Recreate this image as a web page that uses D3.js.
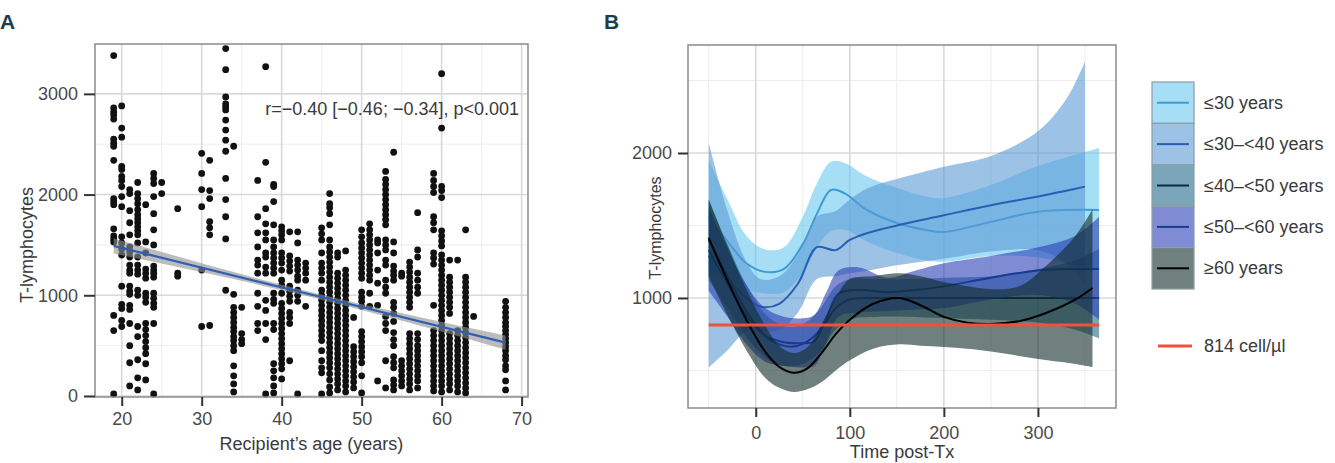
<!DOCTYPE html>
<html><head><meta charset="utf-8">
<script src="https://cdn.jsdelivr.net/npm/d3@7"></script>
<style>
body{margin:0;background:#fff;}
svg{display:block;}
text{font-family:"Liberation Sans",Arial,sans-serif;}
</style>
</head><body>
<svg id="c" width="1335" height="463"></svg>
<script>
// ---------- Panel A data ----------
const ageCols = [19,20,21,22,23,24,25,27,30,31,33,34,35,37,38,39,40,41,42,43,45,46,47,48,49,50,51,52,53,54,55,56,57,59,60,61,62,63,64,68];
const cellCols = [
 [3380,2860,2820,2790,2750,2550,2510,2480,2340,1960,1930,1900,1660,1590,1560,1530,800,650,20],
 [2880,2660,2570,2280,2250,2180,2140,2080,1980,1880,1580,1520,1460,1400,1090,910,870,750,690],
 [2050,2010,1840,1720,1600,1480,1430,1380,1300,1250,1220,1090,1040,1010,900,860,720,500,330,100],
 [2120,2010,1960,1910,1850,1800,1760,1720,1680,1640,1600,1520,1380,1300,1250,1210,1050,1000,690,590,360,180,60],
 [1900,1530,1420,1260,1220,1170,1020,980,930,720,660,600,540,480,420,320,160],
 [2210,2160,2110,1980,1810,1650,1500,1290,1250,1220,1180,1020,970,920,880,720,20],
 [2120,2010],
 [1860,1220,1190],
 [2410,2210,2050,1880,1250,690],
 [2340,2040,1960,1730,1670,1600,700],
 [3450,3240,2970,2900,2870,2840,2740,2640,2540,2430,2160,1950,1780,1560,1050],
 [2480,1010,880,830,780,730,680,640,590,550,500,450,300,200,120,40],
 [880,620,560,520],
 [2140,1780,1620,1480,1350,1300,1220,1020,890,720,650],
 [3270,2320,1860,1710,1620,1550,1420,1380,1280,1220,950,850,720,560,20],
 [2100,2080,1930,1700,1550,1480,1420,1370,1320,1270,1220,1020,960,920,720,660,320,250,180,100,30],
 [1680,1640,1600,1550,1420,1370,1320,1250,1150,1100,1020,920,870,820,770,720,670,620,570,520,470,420,370,320,270,170],
 [1630,1390,1340,1290,1240,1090,1040,990,940,830,780,720,350],
 [1630,1520,1350,1300,1250,1190,1150,1050,1000,940,20],
 [1320,1270,1220,1150,890],
 [1670,1610,1550,1420,1320,1270,1220,1150,1050,1000,950,900,850,800,750,700,650,600,550,450,350,280,230,20],
 [2010,1910,1870,1810,1700,1550,1480,1430,1380,1330,1280,1230,1180,1130,1080,1030,980,930,880,830,780,730,680,630,580,530,480,430,380,330,280,220,160,90,30],
 [1420,1380,1220,1170,1120,1070,1020,970,920,870,820,770,720,670,620,570,520,470,420,370,320,270,220,170,120,60],
 [1440,1250,1200,1150,1100,1050,1000,950,900,850,800,750,700,650,600,550,500,450,400,350,300,250,200,150,100,40],
 [780,490,440,390,340,290,240,190,140,80],
 [1650,1580,1520,1470,1420,1370,1320,1270,1220,1170,1030,980,940,890,640,590,540,490,440,390,330,200,30],
 [1710,1650,1600,1550,1500,1450,1400,1350,1300,1250,1200,1150,1020,890],
 [1550,1520,1420,1250,1120,900,150],
 [2230,2150,2100,2050,2000,1950,1900,1850,1800,1750,1700,1550,1500,1450,1350,1300,1150,1080,1020,790,720,650,350,80],
 [2420,1530,1420,1290,1240,1200,1150,930,880,820,740,630,560,500,390,330,280,160,110,60],
 [1220,1190,350,300,250,200,150,100],
 [1330,1280,1230,1180,1130,1080,1030,980,930,880,620,570,520,470,420,370,320,270,220,170,120,60],
 [1820,1450,1380,1220,1150,1080,1020,620,560,500,450,400,350,300,250,200,150,80],
 [2210,2140,2080,2020,1780,1720,1650,1420,1370,1310,900,650,600,550,500,450,400,350,300,250,200,150,100,50],
 [3200,2660,2080,2040,1970,1640,1590,1540,1490,1400,1350,1300,1250,1200,1150,1100,1050,1000,950,900,850,800,750,700,650,600,550,500,450,400,350,300,250,200,150,100,40],
 [1350,1180,1130,1080,1030,980,930,880,820,620,570,520,470,420,370,320,270,220,170,120,60],
 [1350,650,600,550,500,450,400,350,300,250,200,150,100,40],
 [1650,1180,1130,1080,1030,980,930,880,830,780,730,680,630,580,530,480,430,380,330,280,230,180,130,80,30],
 [790],
 [940,880,830,780,730,690,650,610,570,530,490,450,400,360,300,260,150,60]
];
const fitAge = [19, 43.5, 68];
const fitMean = [1490, 1010, 530];
const fitLo = [1415, 985, 460];
const fitHi = [1565, 1035, 600];
const xTicksA = [20,30,40,50,60,70];
const yTicksA = [0,1000,2000,3000];
const corrLabel = "r=\u22120.40 [\u22120.46; \u22120.34], p<0.001";

// ---------- Panel B data ----------
const groupNames = ["\u226430 years","\u226430\u2013<40 years","\u226440\u2013<50 years","\u226450\u2013<60 years","\u226560 years"];
const g1Time = [-50,-30,-10,10,30,50,65,80,95,118,150,181,200,250,300,365];
const g1Mean = [1560,1390,1240,1180,1200,1370,1580,1745,1720,1607,1517,1469,1455,1525,1595,1607];
const g1Lo   = [1170,1110,1060,1030,1040,1170,1350,1460,1470,1390,1310,1260,1250,1290,1280,1190];
const g1Hi   = [1950,1680,1430,1335,1350,1560,1790,1940,1930,1840,1760,1700,1690,1780,1910,2035];
const g2Time = [-50,-30,-10,5,25,45,65,85,100,120,150,200,250,300,330,350];
const g2Mean = [1290,1140,1000,940,960,1100,1350,1330,1400,1450,1500,1570,1640,1700,1740,1768];
const g2Lo   = [520,640,770,770,780,900,1130,1150,1170,1190,1225,1270,1320,1330,1240,1100];
const g2Hi   = [2070,1600,1250,1130,1150,1300,1560,1600,1680,1760,1820,1905,1980,2150,2370,2630];
const g3Time = [-50,-30,-10,10,25,40,55,70,85,100,130,160,200,250,300,340,365];
const g3Mean = [1400,1150,910,740,680,665,700,790,930,990,1000,1000,1000,1000,1000,1000,1000];
const g3Lo   = [1120,930,730,590,540,530,560,640,780,850,870,870,860,850,830,780,720];
const g3Hi   = [1680,1370,1090,890,820,800,840,940,1080,1130,1130,1130,1140,1150,1200,1260,1340];
const g4Time = [-50,-30,-10,10,30,50,62,75,88,110,140,170,200,250,300,340,365];
const g4Mean = [1330,1100,880,740,695,688,700,860,1030,1055,1040,1055,1080,1140,1190,1200,1200];
const g4Lo   = [1050,870,680,560,530,520,530,690,870,900,910,920,930,990,1020,960,850];
const g4Hi   = [1620,1340,1090,930,870,860,880,1040,1190,1210,1140,1190,1240,1290,1350,1430,1560];
const g5Time = [-50,-30,-10,10,25,40,55,70,85,100,125,153,175,200,225,250,280,310,340,358];
const g5Mean = [1414,1120,850,630,525,485,515,620,750,850,960,1000,950,870,830,820,840,900,990,1069];
const g5Lo   = [1150,880,640,450,380,352,370,420,500,570,650,680,670,662,650,630,600,570,545,524];
const g5Hi   = [1680,1360,1060,810,670,620,660,820,1000,1130,1150,1170,1150,1110,1080,1060,1080,1230,1430,1610];
const bandFill = ["#6bcaee","#5a99d5","#236b8a","#2a40b5","#0f2b28"];
const lineCol  = ["#3a9bd5","#2660b5","#0b2a4a","#1a3a92","#000000"];
const threshold = 814;
const thresholdLabel = "814 cell/\u00b5l";
const thresholdRange = [-50, 365];
const xTicksB = [0,100,200,300];
const yTicksB = [1000,2000];

// ---------- drawing ----------
const svg = d3.select("#c");
const FS = 18;
const TXT = "#3a3a3a";

function grid(g, x, y, xMaj, xMin, yMaj, yMin, x0, x1, y0, y1){
  g.selectAll(null).data(xMin).enter().append("line")
    .attr("x1",d=>x(d)).attr("x2",d=>x(d)).attr("y1",y0).attr("y2",y1)
    .attr("stroke","#ededed").attr("stroke-width",1);
  g.selectAll(null).data(yMin).enter().append("line")
    .attr("y1",d=>y(d)).attr("y2",d=>y(d)).attr("x1",x0).attr("x2",x1)
    .attr("stroke","#ededed").attr("stroke-width",1);
  g.selectAll(null).data(xMaj).enter().append("line")
    .attr("x1",d=>x(d)).attr("x2",d=>x(d)).attr("y1",y0).attr("y2",y1)
    .attr("stroke","#d9d9d9").attr("stroke-width",1.6);
  g.selectAll(null).data(yMaj).enter().append("line")
    .attr("y1",d=>y(d)).attr("y2",d=>y(d)).attr("x1",x0).attr("x2",x1)
    .attr("stroke","#d9d9d9").attr("stroke-width",1.6);
}
function styleAxis(sel){
  sel.select(".domain").remove();
  sel.selectAll(".tick line").attr("stroke","#333").attr("stroke-width",2);
  sel.selectAll(".tick text").attr("fill","#4a4a4a").style("font-size",FS+"px")
    .style("font-family",'"Liberation Sans",Arial,sans-serif');
}

// Panel A
const A = {l:95, r:528, t:44, b:397};
const xA = d3.scaleLinear().domain([16.66,70.8]).range([A.l,A.r]);
const yA = d3.scaleLinear().domain([0,3495]).range([396,A.t]);
const gA = svg.append("g");
grid(gA, xA, yA, xTicksA, [25,35,45,55,65], yTicksA, [500,1500,2500], A.l, A.r, A.t, A.b);

const pts = [];
ageCols.forEach((a,i)=>cellCols[i].forEach(v=>pts.push([a,v])));
gA.selectAll(null).data(pts).enter().append("circle")
  .attr("cx",d=>xA(d[0])).attr("cy",d=>yA(d[1])).attr("r",3.4).attr("fill","#111");

const fit = fitAge.map((a,i)=>({a, m:fitMean[i], lo:fitLo[i], hi:fitHi[i]}));
gA.append("path").datum(fit)
  .attr("d",d3.area().x(d=>xA(d.a)).y0(d=>yA(d.lo)).y1(d=>yA(d.hi)).curve(d3.curveMonotoneX))
  .attr("fill","#8f8f8f").attr("fill-opacity",0.6);
gA.append("path").datum(fit)
  .attr("d",d3.line().x(d=>xA(d.a)).y(d=>yA(d.m)))
  .attr("fill","none").attr("stroke","#2d5fb5").attr("stroke-width",2.2);

gA.append("rect").attr("x",A.l).attr("y",A.t).attr("width",A.r-A.l).attr("height",A.b-A.t)
  .attr("fill","none").attr("stroke","#8a8a8a").attr("stroke-width",1.5);

gA.append("g").attr("transform",`translate(${A.l},0)`)
  .call(d3.axisLeft(yA).tickValues(yTicksA).tickSize(11).tickPadding(6).tickFormat(d3.format("d")))
  .call(styleAxis);
gA.append("g").attr("transform",`translate(0,${A.b})`)
  .call(d3.axisBottom(xA).tickValues(xTicksA).tickSize(9).tickPadding(6))
  .call(styleAxis);

gA.append("text").attr("x",519).attr("y",115).attr("text-anchor","end").text(corrLabel)
  .attr("fill",TXT).style("font-size",FS+"px");
gA.append("text").attr("x",(A.l+A.r)/2).attr("y",450).attr("text-anchor","middle")
  .text("Recipient\u2019s age (years)").attr("fill",TXT).style("font-size",FS+"px");
gA.append("text").attr("transform",`translate(33,245) rotate(-90)`).attr("text-anchor","middle")
  .text("T-lymphocytes").attr("fill",TXT).style("font-size",FS+"px");

// Panel B
const B = {l:688, r:1116, t:45, b:408};
const xB = d3.scaleLinear().domain([-72,383]).range([B.l,B.r]);
const yB = d3.scaleLinear().domain([241,2745]).range([B.b,B.t]);
const gB = svg.append("g");
grid(gB, xB, yB, xTicksB, [-50,50,150,250,350], yTicksB, [500,1500,2500], B.l, B.r, B.t, B.b);

const groups = [
  [g1Time,g1Mean,g1Lo,g1Hi],[g2Time,g2Mean,g2Lo,g2Hi],[g3Time,g3Mean,g3Lo,g3Hi],
  [g4Time,g4Mean,g4Lo,g4Hi],[g5Time,g5Mean,g5Lo,g5Hi]
].map((g,k)=>g[0].map((t,i)=>({t, m:g[1][i], lo:g[2][i], hi:g[3][i], k})));

const curve = d3.curveCatmullRom.alpha(0.5);
const area = d3.area().x(d=>xB(d.t)).y0(d=>yB(d.lo)).y1(d=>yB(d.hi)).curve(curve);
const line = d3.line().x(d=>xB(d.t)).y(d=>yB(d.m)).curve(curve);
groups.forEach((g,k)=>{
  gB.append("path").datum(g).attr("d",area).attr("fill",bandFill[k]).attr("fill-opacity",0.6);
  gB.append("path").datum(g).attr("d",line).attr("fill","none").attr("stroke",lineCol[k]).attr("stroke-width",2);
});
gB.append("line").attr("x1",xB(thresholdRange[0])).attr("x2",xB(thresholdRange[1]))
  .attr("y1",yB(threshold)).attr("y2",yB(threshold)).attr("stroke","#f0503c").attr("stroke-width",3);

gB.append("rect").attr("x",B.l).attr("y",B.t).attr("width",B.r-B.l).attr("height",B.b-B.t)
  .attr("fill","none").attr("stroke","#8a8a8a").attr("stroke-width",1.5);
gB.append("g").attr("transform",`translate(${B.l},0)`)
  .call(d3.axisLeft(yB).tickValues(yTicksB).tickSize(10).tickPadding(6).tickFormat(d3.format("d")))
  .call(styleAxis);
gB.append("g").attr("transform",`translate(0,${B.b})`)
  .call(d3.axisBottom(xB).tickValues(xTicksB).tickSize(9).tickPadding(9))
  .call(styleAxis);
gB.append("text").attr("x",(B.l+B.r)/2).attr("y",458).attr("text-anchor","middle")
  .text("Time post-Tx").attr("fill",TXT).style("font-size",FS+"px");
gB.append("text").attr("transform",`translate(661,228) rotate(-90)`).attr("text-anchor","middle")
  .text("T-lymphocytes").attr("fill",TXT).style("font-size","16px");

// Legend
const L = {x:1152, y:82, w:42, h:41.4};
const gL = svg.append("g");
groupNames.forEach((n,k)=>{
  const y0 = L.y + k*L.h;
  gL.append("rect").attr("x",L.x).attr("y",y0).attr("width",L.w).attr("height",L.h).attr("fill","#fff");
  gL.append("rect").attr("x",L.x).attr("y",y0).attr("width",L.w).attr("height",L.h)
    .attr("fill",bandFill[k]).attr("fill-opacity",0.6).attr("stroke","#8d9da3").attr("stroke-width",1.2);
  gL.append("line").attr("x1",L.x+5).attr("x2",L.x+L.w-5).attr("y1",y0+L.h/2).attr("y2",y0+L.h/2)
    .attr("stroke",lineCol[k]).attr("stroke-width",2);
  gL.append("text").attr("x",1204).attr("y",y0+L.h/2+6).text(n).attr("fill",TXT).style("font-size",FS+"px");
});
gL.append("line").attr("x1",1158).attr("x2",1192).attr("y1",346).attr("y2",346).attr("stroke","#f0503c").attr("stroke-width",3);
gL.append("text").attr("x",1204).attr("y",352).text(thresholdLabel).attr("fill",TXT).style("font-size",FS+"px");

// panel letters
svg.append("text").attr("x",0).attr("y",29).text("A").attr("fill","#1e3d4c")
  .style("font-weight","bold").style("font-size","21px");
svg.append("text").attr("x",604).attr("y",29).text("B").attr("fill","#1e3d4c")
  .style("font-weight","bold").style("font-size","21px");
</script>
</body></html>
